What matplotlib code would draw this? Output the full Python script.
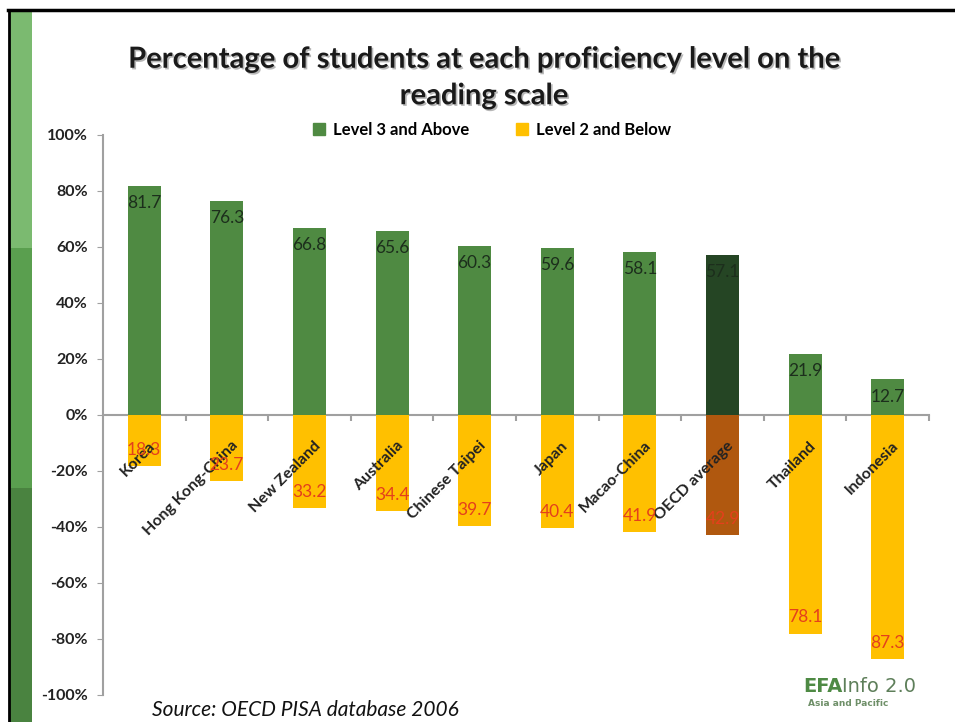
import matplotlib
matplotlib.use("Agg")
import matplotlib.pyplot as plt
import matplotlib.patheffects as pe
import matplotlib.transforms as mtransforms
from matplotlib.patches import Rectangle, Patch
from matplotlib.lines import Line2D

# data (PISA 2006 reading, % of students)
countries = ["Korea", "Hong Kong-China", "New Zealand", "Australia",
             "Chinese Taipei", "Japan", "Macao-China", "OECD average",
             "Thailand", "Indonesia"]
level3_above = [81.7, 76.3, 66.8, 65.6, 60.3, 59.6, 58.1, 57.1, 21.9, 12.7]
level2_below = [18.3, 23.7, 33.2, 34.4, 39.7, 40.4, 41.9, 42.9, 78.1, 87.3]
yticks = [-100, -80, -60, -40, -20, 0, 20, 40, 60, 80, 100]

GREEN = "#4F8A42"
YELLOW = "#FFC000"
OECD_GREEN = "#254524"
OECD_ORANGE = "#B0580F"
FONT = "Lato"

W, H = 955, 722
fig = plt.figure(figsize=(W / 100, H / 100), dpi=100)

# slide decoration: green strip on the left + black frame
for y0, y1, c in [(0, 234, "#4A8340"), (234, 474, "#5A9F4F"), (474, 712, "#7BBA70")]:
    fig.add_artist(Rectangle((10 / W, y0 / H), 22 / W, (y1 - y0) / H,
                             transform=fig.transFigure, color=c, lw=0))
fig.add_artist(Line2D([8 / W, 1], [1 - 10 / H] * 2, color="black", lw=2.5,
                      transform=fig.transFigure))
fig.add_artist(Line2D([9 / W] * 2, [0, 1 - 10 / H], color="black", lw=2.0,
                      transform=fig.transFigure))

ax = fig.add_axes([103 / W, 1 - 695 / H, (929 - 103) / W, 560 / H])
x = list(range(len(countries)))
pos_cols = [OECD_GREEN if c == "OECD average" else GREEN for c in countries]
neg_cols = [OECD_ORANGE if c == "OECD average" else YELLOW for c in countries]
ax.bar(x, level3_above, width=0.40, color=pos_cols, zorder=2)
ax.bar(x, [-v for v in level2_below], width=0.40, color=neg_cols, zorder=2)

for xi, v in zip(x, level3_above):
    ax.text(xi, v - 6.1, f"{v}", ha="center", va="center", fontsize=12.5,
            color="#1C2E1C", family=FONT, zorder=4)
for xi, v in zip(x, level2_below):
    ax.text(xi, -v + 5.8, f"{v}", ha="center", va="center", fontsize=12.5,
            color="#E4401C", family=FONT, zorder=4)

ax.set_xlim(-0.5, len(countries) - 0.5)
ax.set_ylim(-100, 100)
ax.set_yticks(yticks)
ax.set_yticklabels([f"{t}%" for t in yticks], family=FONT, fontweight="bold",
                   fontsize=11.5, color="#222222")
ax.tick_params(axis="y", length=4, color="#A0A0A0", pad=7)

ax.spines[["top", "right"]].set_visible(False)
for side in ["left", "bottom"]:
    ax.spines[side].set_color("#A0A0A0")
    ax.spines[side].set_linewidth(1.5)
    ax.spines[side].set_zorder(1.5)
ax.spines["bottom"].set_position(("data", 0))
ax.xaxis.set_zorder(3)
ax.set_xticks(x)
ax.set_xticks([i - 0.5 for i in range(1, len(countries) + 1)], minor=True)
ax.set_xticklabels(countries, rotation=45, ha="right", va="top",
                   rotation_mode="anchor", family=FONT, fontweight="bold",
                   fontsize=11.5, color="#222222")
ax.tick_params(axis="x", which="major", length=0, pad=17)
ax.tick_params(axis="x", which="minor", length=4, color="#A0A0A0", width=1.5)
shift = mtransforms.ScaledTranslation(4 / 100, 0, fig.dpi_scale_trans)
for lab in ax.get_xticklabels():
    lab.set_transform(lab.get_transform() + shift)

# legend
handles = [Patch(color=GREEN, label="Level 3 and Above"),
           Patch(color=YELLOW, label="Level 2 and Below")]
fig.legend(handles=handles, loc="center", bbox_to_anchor=(492 / W, 1 - 130 / H),
           ncol=2, frameon=False, handlelength=0.7, handleheight=0.7,
           handletextpad=0.5, columnspacing=2.8,
           prop={"family": FONT, "weight": "bold", "size": 12})

# title with soft shadow
fig.text(484 / W, 1 - 78 / H,
         "Percentage of students at each proficiency level on the\nreading scale",
         ha="center", va="center", fontsize=21, fontweight="bold", family=FONT,
         color="#1A1A1A", linespacing=1.5,
         path_effects=[pe.withSimplePatchShadow(offset=(1.2, -1.2),
                                                shadow_rgbFace="#888888", alpha=0.6)])

fig.text(152 / W, 1 - 710 / H, "Source: OECD PISA database 2006",
         ha="left", va="center", fontsize=15, style="italic", family=FONT,
         color="#111111")

# logo text
efa = fig.text(803 / W, 1 - 686 / H, "EFA", ha="left", va="center", fontsize=14,
               fontweight="bold", family="DejaVu Sans", color="#4E8A44")
plt.annotate("Info 2.0", xy=(1, 0.5), xycoords=efa, ha="left", va="center",
             fontsize=14, family="DejaVu Sans", color="#5E7F5A",
             annotation_clip=False)
fig.text(808 / W, 1 - 704 / H, "Asia and Pacific", ha="left", va="center",
         fontsize=6.5, fontweight="bold", family="DejaVu Sans", color="#6E8F68")

fig.savefig("out.png", dpi=100)
